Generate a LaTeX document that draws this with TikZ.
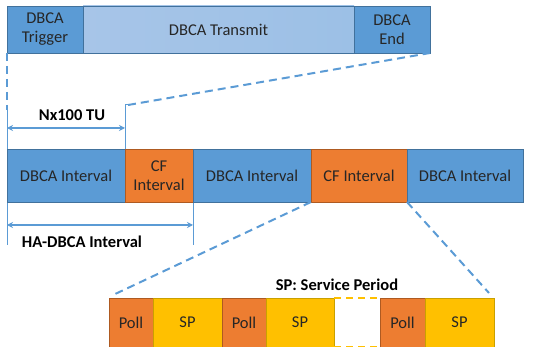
\documentclass[tikz,border=0pt]{standalone}
\usepackage{fontspec}
\setmainfont{Carlito}
\usetikzlibrary{arrows.meta}
\definecolor{dblue}{HTML}{5B9BD5}
\definecolor{dbluedk}{HTML}{41719C}
\definecolor{lblue}{HTML}{A7C5E8}
\definecolor{lblue2}{HTML}{9CC0E6}
\definecolor{corange}{HTML}{ED7D31}
\definecolor{corangedk}{HTML}{AE5A21}
\definecolor{cyellow}{HTML}{FFC000}
\definecolor{cyellowdk}{HTML}{C9A000}
\definecolor{txt}{HTML}{262626}
\tikzset{
  blk/.style={draw, line width=0.8pt, inner sep=0pt, outer sep=0pt, align=center, text=txt, font=\fontsize{16.5}{19}\selectfont},
  bluebox/.style={blk, fill=dblue, draw=dbluedk},
  orbox/.style={blk, fill=corange, draw=corangedk},
  yebox/.style={blk, fill=cyellow, draw=cyellowdk},
  zoomline/.style={draw=dblue, line width=2pt, dash pattern=on 8pt off 5pt},
  guide/.style={draw=dblue, line width=1pt},
  dim/.style={draw=dblue, line width=1.6pt, {Stealth[length=6pt,width=6pt]}-{Stealth[length=6pt,width=6pt]}},
  lbl/.style={font=\bfseries\fontsize{16.5}{19}\selectfont, text=black, inner sep=0pt}
}
\begin{document}
\begin{tikzpicture}[x=1pt,y=-1pt]
\useasboundingbox (0,0) rectangle (533,347);
% guide lines behind
\draw[guide] (7,110) -- (7,245);
\draw[guide] (125,105) -- (125,149);
\draw[guide] (193,202) -- (193,245);
% top bar
\node[bluebox, minimum width=76pt, minimum height=47pt, anchor=north west] (trig) at (7,6) {DBCA\\Trigger};
\node[blk, draw=dbluedk, left color=lblue, right color=lblue2, minimum width=271pt, minimum height=47pt, anchor=north west] (trans) at (83,6) {DBCA Transmit};
\node[bluebox, minimum width=76pt, minimum height=47pt, anchor=north west] (tend) at (354,6) {DBCA\\End};
% middle bar
\node[bluebox, minimum width=118pt, minimum height=53pt, anchor=north west] (d1) at (7,149) {DBCA Interval};
\node[orbox, minimum width=68pt, minimum height=53pt, anchor=north west] (c1) at (125,149) {CF\\Interval};
\node[bluebox, minimum width=118pt, minimum height=53pt, anchor=north west] (d2) at (193,149) {DBCA Interval};
\node[orbox, minimum width=96pt, minimum height=53pt, anchor=north west] (c2) at (311,149) {CF Interval};
\node[bluebox, minimum width=116pt, minimum height=53pt, anchor=north west] (d3) at (407,149) {DBCA Interval};
% bottom bar
\node[orbox, minimum width=44pt, minimum height=49pt, anchor=north west] (p1) at (109,298) {Poll};
\node[yebox, minimum width=69pt, minimum height=49pt, anchor=north west] (s1) at (153,298) {SP};
\node[orbox, minimum width=44pt, minimum height=49pt, anchor=north west] (p2) at (222,298) {Poll};
\node[yebox, minimum width=68pt, minimum height=49pt, anchor=north west] (s2) at (266,298) {SP};
\node[orbox, minimum width=45pt, minimum height=49pt, anchor=north west] (p3) at (380,298) {Poll};
\node[yebox, minimum width=69pt, minimum height=49pt, anchor=north west] (s3) at (425,298) {SP};
\draw[draw=cyellow, line width=2pt, dash pattern=on 7pt off 5pt] (s2.north east) -- (p3.north west);
\draw[draw=cyellow, line width=2pt, dash pattern=on 7pt off 5pt] (s2.south east) -- (p3.south west);
% zoom lines
\draw[zoomline] (trig.south west) -- (7,110);
\coordinate (tick) at (128,105);
\draw[guide] (125,105) -- (tick);
\draw[zoomline] (tick) -- (tend.south east);
\draw[zoomline] (c2.south west) -- (113,295);
\draw[zoomline] (c2.south east) -- (489,293);
% dimension arrows
\coordinate (a1) at (7,128);
\coordinate (a2) at (125,128);
\draw[dim] (a1) -- (a2);
\coordinate (b1) at (7,225);
\coordinate (b2) at (193,225);
\draw[dim] (b1) -- (b2);
\node[lbl] (nx) at (72,115) {Nx100 TU};
\node[lbl] (ha) at (82,242) {HA-DBCA Interval};
\node[lbl] (spl) at (337,285) {SP: Service Period};
\end{tikzpicture}
\end{document}
